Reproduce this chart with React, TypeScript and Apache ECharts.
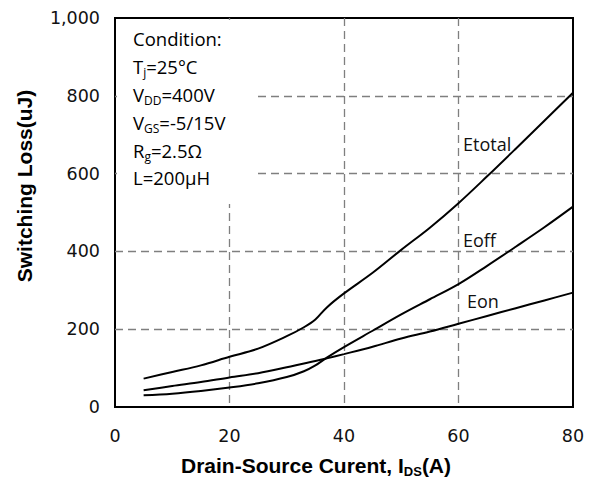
import { useEffect, useRef } from "react";
import * as echarts from "echarts";

// Drain-source current (A)
const current = [5, 10, 15, 20, 25, 30, 33, 35, 37, 40, 45, 50, 55, 60, 65, 70, 75, 80];
// Switching losses (uJ)
const eTotal = [73, 90, 107, 129, 150, 182, 205, 225, 256, 292, 345, 404, 461, 524, 593, 664, 736, 808];
const eOff = [30, 34, 41, 50, 61, 77, 92, 107, 127, 154, 196, 238, 277, 316, 363, 412, 462, 515];
const eOn = [43, 54, 64, 76, 87, 102, 112, 118, 125, 136, 155, 176, 194, 214, 234, 254, 274, 294];

const xMin = 0;
const xMax = 80;
const xStep = 20;
const yMin = 0;
const yMax = 1000;
const yStep = 200;

const conditionLines = [
  "Condition:",
  "T{s|j}=25°C",
  "V{s|DD}=400V",
  "V{s|GS}=-5/15V",
  "R{s|g}=2.5Ω",
  "L=200µH",
];
const seriesNames = ["Etotal", "Eoff", "Eon"];
const xTitle = "Drain-Source Curent, I{s|DS}(A)";
const yTitle = "Switching Loss(uJ)";

const TEXT_FONT = '"Open Sans", "Noto Sans", sans-serif';
const TITLE_FONT = '"Liberation Sans", Arial, sans-serif';
const TICK_FONT = '"DejaVu Sans", Verdana, sans-serif';

function pairs(ys: number[]) {
  return current.map((x, i) => [x, ys[i]]);
}

export default function App() {
  const ref = useRef<HTMLDivElement>(null);

  useEffect(() => {
    if (!ref.current) return;
    const chart = echarts.init(ref.current, undefined, { renderer: "svg" });

    const mainRich = (size: number) => ({
      m: {
        fontFamily: TEXT_FONT,
        fontSize: size,
        color: "#111",
        lineHeight: 24,
      },
      s: {
        fontFamily: TEXT_FONT,
        fontSize: 12,
        color: "#111",
        lineHeight: 12,
        verticalAlign: "bottom",
      },
    });

    const condYs = [38, 66, 94, 122.5, 150, 177.5];
    const condText = conditionLines.map((t, i) => ({
      type: "text",
      x: 133,
      y: condYs[i],
      z: 10,
      style: {
        text: "{m|" + t.replace(/\{s\|([^}]*)\}/g, "}{s|$1}{m|") + "}",
        rich: mainRich(18.5),
        align: "left",
        verticalAlign: "middle",
      },
    }));

    const labelPos = [
      [463, 144],
      [463, 240],
      [467, 301],
    ];
    const curveText = seriesNames.map((n, i) => ({
      type: "text",
      x: labelPos[i][0],
      y: labelPos[i][1],
      z: 10,
      style: {
        text: n,
        fontFamily: TEXT_FONT,
        fontSize: 18,
        fill: "#111",
        align: "left",
        verticalAlign: "middle",
      },
    }));

    const lineStyle = { color: "#000", width: 2 };
    const mkSeries = (name: string, ys: number[]) => ({
      type: "line",
      name,
      data: pairs(ys),
      smooth: 0.35,
      showSymbol: false,
      symbol: "none",
      lineStyle,
      z: 5,
    });

    chart.setOption({
      animation: false,
      backgroundColor: "#fff",
      grid: {
        left: 115,
        right: 20,
        top: 18,
        bottom: 77,
        show: true,
        borderColor: "#000",
        borderWidth: 2,
        backgroundColor: "transparent",
      },
      xAxis: {
        type: "value",
        min: xMin,
        max: xMax,
        interval: xStep,
        axisLine: { show: false },
        axisTick: { show: false },
        axisLabel: {
          fontFamily: TICK_FONT,
          fontSize: 17.5,
          color: "#111",
          margin: 20,
        },
        splitLine: {
          show: true,
          showMinLine: false,
          showMaxLine: false,
          lineStyle: { color: "#7f7f7f", width: 1.3, type: [8, 5] },
        },
      },
      yAxis: {
        type: "value",
        min: yMin,
        max: yMax,
        interval: yStep,
        axisLine: { show: false },
        axisTick: { show: false },
        axisLabel: {
          fontFamily: TICK_FONT,
          fontSize: 17.5,
          color: "#111",
          margin: 15,
          formatter: (v: number) => v.toLocaleString("en-US"),
        },
        splitLine: {
          show: true,
          showMinLine: false,
          showMaxLine: false,
          lineStyle: { color: "#7f7f7f", width: 1.3, type: [8, 5] },
        },
      },
      series: [
        mkSeries(seriesNames[0], eTotal),
        mkSeries(seriesNames[1], eOff),
        mkSeries(seriesNames[2], eOn),
      ],
      graphic: [
        {
          type: "rect",
          z: 1,
          shape: { x: 117, y: 20, width: 136, height: 184 },
          style: { fill: "#fff" },
        },
        ...condText,
        ...curveText,
        {
          type: "text",
          x: 316,
          y: 465,
          z: 10,
          style: {
            text: "{m|" + xTitle.replace(/\{s\|([^}]*)\}/g, "}{s|$1}{m|") + "}",
            rich: {
              m: {
                fontFamily: TITLE_FONT,
                fontWeight: "bold",
                fontSize: 21,
                color: "#000",
                lineHeight: 26,
              },
              s: {
                fontFamily: TITLE_FONT,
                fontWeight: "bold",
                fontSize: 13,
                color: "#000",
                lineHeight: 14,
                verticalAlign: "bottom",
              },
            },
            align: "center",
            verticalAlign: "middle",
          },
        },
        {
          type: "text",
          x: 24,
          y: 186,
          rotation: Math.PI / 2,
          z: 10,
          style: {
            text: yTitle,
            fontFamily: TITLE_FONT,
            fontWeight: "bold",
            fontSize: 21,
            fill: "#000",
            align: "center",
            verticalAlign: "middle",
          },
        },
      ],
    });

    return () => chart.dispose();
  }, []);

  return (
    <div
      ref={ref}
      style={{ position: "fixed", left: 0, top: 0, width: 593, height: 484 }}
    />
  );
}
